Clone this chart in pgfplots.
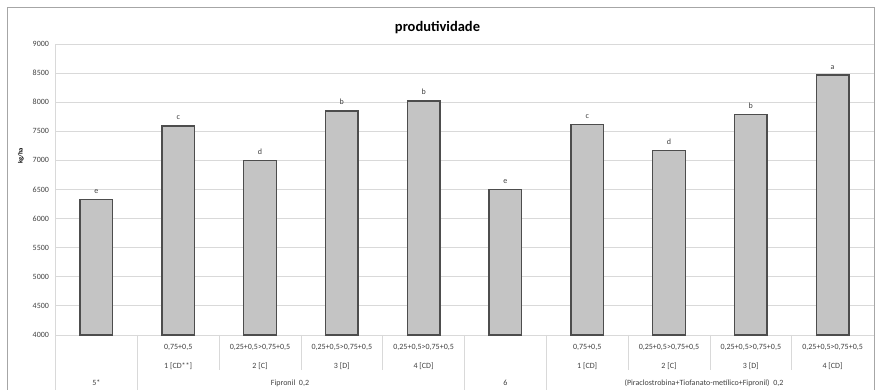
\documentclass[border=0pt]{standalone}
\usepackage{pgfplots}
\pgfplotsset{compat=1.18}
\usepackage{fontspec}
\setmainfont{Carlito}
\definecolor{barfill}{HTML}{C4C4C4}
\definecolor{barline}{HTML}{4D4D4D}
\definecolor{gridc}{HTML}{D9D9D9}
\definecolor{framec}{HTML}{A6A6A6}
\definecolor{txt}{HTML}{404040}
\tikzset{lab/.style={font=\fontsize{8}{9}\selectfont, text=txt}}
\begin{document}
\begin{tikzpicture}[x=1pt,y=1pt]
\useasboundingbox (0,0) rectangle (875,390);
\draw[framec,line width=0.8pt] (7.5,0) -- (7.5,383) -- (874.5,383) -- (874.5,0);
\node[font=\bfseries\fontsize{14.5}{16}\selectfont] at (437.5,362) {produtividade};
\node[rotate=90,font=\bfseries\fontsize{6.5}{7}\selectfont] at (21,234) {kg/ha};
\begin{axis}[
  at={(55.5pt,55pt)}, anchor=south west,
  scale only axis, width=818pt, height=291pt,
  xmin=-0.5, xmax=9.5, ymin=4000, ymax=9000,
  ytick={4000,4500,...,9000},
  xtick=\empty,
  ymajorgrids, grid style={gridc, line width=0.8pt},
  axis x line*=bottom, axis y line*=left,
  axis line style={gridc, line width=0.8pt},
  y axis line style={-}, x axis line style={-},
  major tick length=0pt,
  yticklabel style={font=\fontsize{8}{9}\selectfont, text=txt, xshift=-3pt},
  /pgf/number format/assume math mode=true,
  /pgf/number format/1000 sep={},
  clip=false,
  point meta=explicit symbolic,
  nodes near coords,
  every node near coord/.append style={font=\fontsize{8}{9}\selectfont, text=txt, yshift=2pt},
]
\addplot[ybar, bar width=32.5pt, fill=barfill, draw=barline, line width=1.4pt]
table[x=x, y=y, meta=lab] {
x y lab
0 6330 e
1 7590 c
2 7000 d
3 7850 b
4 8020 b
5 6495 e
6 7615 c
7 7165 d
8 7785 b
9 8465 a
};
\end{axis}
% category table (below the axis)
\foreach \xx in {55.5,137.3,464.5,546.3} {
  \draw[gridc, line width=0.8pt] (\xx,55) -- (\xx,0);
}
\foreach \xx in {219.1,300.9,382.7,628.1,709.9,791.7} {
  \draw[gridc, line width=0.8pt] (\xx,55) -- (\xx,20);
}
\foreach \xx in {178.2,587.2} {
  \node[lab] at (\xx,43) {0,75+0,5};
}
\foreach \xx in {260.0,341.8,423.6,669.0,750.8,832.6} {
  \node[lab] at (\xx,43) {0,25+0,5>0,75+0,5};
}
\node[lab] at (178.2,24) {1 [CD**]};
\node[lab] at (260.0,24) {2 [C]};
\node[lab] at (341.8,24) {3 [D]};
\node[lab] at (423.6,24) {4 [CD]};
\node[lab] at (587.2,24) {1 [CD]};
\node[lab] at (669.0,24) {2 [C]};
\node[lab] at (750.8,24) {3 [D]};
\node[lab] at (832.6,24) {4 [CD]};
\node[lab] at (96.4,7) {5*};
\node[lab] at (290,7) {Fipronil\ \ 0,2};
\node[lab] at (505.4,7) {6};
\node[lab] at (704,7) {(Piraclostrobina+Tiofanato-metílico+Fipronil)\ \ 0,2};
\end{tikzpicture}
\end{document}
